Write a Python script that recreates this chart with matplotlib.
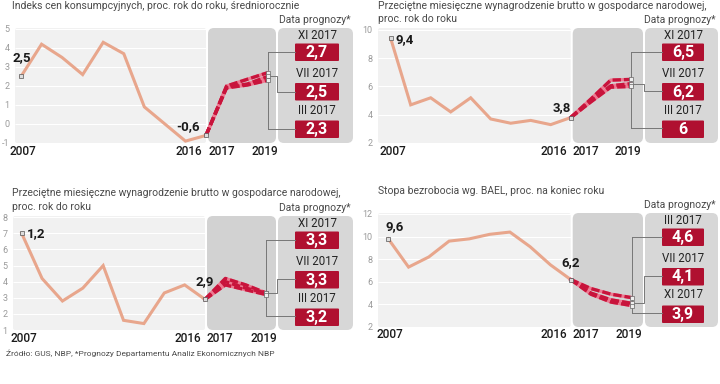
import matplotlib
matplotlib.use('Agg')
import matplotlib.pyplot as plt
from matplotlib.patches import FancyBboxPatch

W, H = 720, 384
FONT = ['Roboto', 'DejaVu Sans']
plt.rcParams['font.family'] = FONT

# data
years = list(range(2007, 2017))
fc_years = [2016, 2017, 2018, 2019]

cpi = [2.5, 4.2, 3.5, 2.6, 4.3, 3.7, 0.9, 0.0, -0.9, -0.6]
cpi_xi = [-0.6, 2.0, 2.35, 2.7]
cpi_vii = [-0.6, 1.95, 2.1, 2.5]
cpi_iii = [-0.6, 1.9, 2.05, 2.3]

wages = [9.4, 4.7, 5.2, 4.2, 5.2, 3.7, 3.4, 3.6, 3.3, 3.8]
wages_xi = [3.8, 5.1, 6.45, 6.5]
wages_vii = [3.8, 4.95, 6.05, 6.2]
wages_iii = [3.8, 4.9, 5.95, 6.0]

gdp = [7.0, 4.2, 2.8, 3.6, 5.0, 1.6, 1.4, 3.3, 3.8, 2.9]
gdp_xi = [2.9, 4.2, 3.8, 3.3]
gdp_vii = [2.9, 4.0, 3.6, 3.3]
gdp_iii = [2.9, 3.8, 3.5, 3.2]

unemp = [9.8, 7.3, 8.2, 9.6, 9.8, 10.2, 10.4, 9.1, 7.5, 6.2]
unemp_iii = [6.2, 5.4, 4.9, 4.6]
unemp_vii = [6.2, 5.0, 4.4, 4.1]
unemp_xi = [6.2, 4.9, 4.2, 3.9]

labels_a = ['XI 2017', 'VII 2017', 'III 2017']
labels_b = ['III 2017', 'VII 2017', 'XI 2017']
cpi_box = ['2,7', '2,5', '2,3']
wages_box = ['6,5', '6,2', '6']
gdp_box = ['3,3', '3,3', '3,2']
unemp_box = ['4,6', '4,1', '3,9']

PEACH = '#e8a68c'
RED = '#c8143c'
BOXRED = '#b01030'

fig = plt.figure(figsize=(7.2, 3.84), dpi=100)


def fx(x):
    return x / W


def fy(y):
    return 1 - y / H


def rbox(x0, y0, x1, y1, color, r=5, z=-2):
    p = FancyBboxPatch((fx(x0), fy(y1)), (x1 - x0) / W, (y1 - y0) / H,
                       boxstyle='round,pad=0,rounding_size=%f' % (r / W),
                       mutation_aspect=W / H, transform=fig.transFigure,
                       fc=color, ec='none', zorder=z)
    fig.add_artist(p)


def panel(g, hist, fcs, box_labels, box_values, first_lab, last_lab, title):
    ppy = (g['x16'] - g['x07']) / 9.0
    (v1, p1), (v2, p2) = g['ytop'], g['ybot']
    ppu = (p2 - p1) / (v1 - v2)

    def xd(px):
        return 2007 + (px - g['x07']) / ppy

    def yd(py):
        return v1 - (py - p1) / ppu

    def xp(year):
        return g['x07'] + (year - 2007) * ppy

    left, right, top, bottom = g['left'], g['right'], g['top'], g['bottom']
    fcl, fcr, rbl = g['x16'] + 2, g['fcr'], g['rbl']

    # backgrounds
    rbox(left, top, g['x16'], bottom, '#f1f1f1', r=2)
    rbox(fcl, top, fcr, bottom, '#d2d2d2', r=6)
    rbox(rbl, top, right, bottom, '#d7d7d7', r=6)

    ax = fig.add_axes([fx(left), fy(bottom), (right - left) / W, (bottom - top) / H])
    ax.set_facecolor('none')
    ax.set_xlim(xd(left), xd(right))
    ax.set_ylim(yd(bottom), yd(top))
    for s in ax.spines.values():
        s.set_visible(False)
    ax.set_xticks([])
    ax.set_yticks(g['ticks'])
    ax.set_yticklabels([str(t) for t in g['ticks']])
    ax.tick_params(axis='y', length=0, pad=4, labelsize=6.5, labelcolor='#9a9a9a')
    ax.hlines(g['ticks'], xd(left), 2016, color='white', lw=0.8, zorder=1)

    ax.plot(years, hist, color=PEACH, lw=2.2, solid_joinstyle='miter', zorder=3)
    for vals in fcs:
        ax.plot(fc_years, vals, color='#ee7a92', lw=2.4, zorder=4)
        ax.plot(fc_years, vals, color=RED, lw=2.4, dashes=(2.5, 0.9), zorder=5)
        ax.plot(2019, vals[-1], marker='s', ms=2.4, mfc='#eeeeee', mec='#666666',
                mew=0.5, zorder=6, clip_on=False)
    for xv, yv in [(years[0], hist[0]), (years[-1], hist[-1])]:
        ax.plot(xv, yv, marker='s', ms=2.4, mfc='#dddddd', mec='#555555', mew=0.5,
                zorder=6)

    # annotations
    ax.annotate(first_lab, (years[0], hist[0]), xytext=g['off1'], textcoords='offset pixels',
                ha='center', va='center', fontsize=9.5, fontweight='bold', color='#1a1a1a')
    ax.annotate(last_lab, (years[-1], hist[-1]), xytext=g['off2'], textcoords='offset pixels',
                ha='center', va='center', fontsize=9.5, fontweight='bold', color='#1a1a1a')

    # year labels
    ylab = bottom + 8
    for yr, shift in [(2007, 0.1), (2016, -0.85), (2017, -0.25), (2019, -0.12)]:
        fig.text(fx(xp(yr + shift)), fy(ylab), str(yr), ha='center', va='center',
                 fontsize=8.5, fontweight='medium', color='#1a1a1a')

    # right box with forecasts
    rb_x0, rb_x1 = rbl + 17, right - 14
    lab_off = [7.5, 45.5, 82]
    box_off = [15.5, 55, 92.5]
    centers = []
    for lab, val, lo, bo in zip(box_labels, box_values, lab_off, box_off):
        fig.text(fx((rb_x0 + rb_x1) / 2), fy(top + lo), lab, ha='center', va='center',
                 fontsize=8.3, color='#222222')
        y0 = top + bo
        rbox(rb_x0, y0, rb_x1, y0 + 17.5, BOXRED, r=1, z=-1)
        fig.text(fx((rb_x0 + rb_x1) / 2), fy(y0 + 9), val, ha='center', va='center',
                 fontsize=11.5, fontweight='bold', color='white')
        centers.append(y0 + 8.75)

    # connectors
    kw = dict(color='#777777', lw=0.7, clip_on=False, zorder=2)
    xgap = xd((fcr + rbl) / 2)
    ax.plot([2019, 2019], [yd(centers[0]), yd(centers[2])], **kw)
    ax.plot([2019, xd(rb_x0)], [yd(centers[0])] * 2, **kw)
    ax.plot([2019, xd(rb_x0)], [yd(centers[2])] * 2, **kw)
    mid = fcs[1][-1]
    ax.plot([2019, xgap, xgap, xd(rb_x0)], [mid, mid, yd(centers[1]), yd(centers[1])], **kw)

    # titles
    for i, line in enumerate(title):
        fig.text(fx(g['title_x']), fy(g['title_y'] + i * 13.5), line, ha='left', va='center',
                 fontsize=7.5, color='#4a4a4a')
    fig.text(fx(right - 2), fy(top - 8), 'Data prognozy*', ha='right', va='center',
             fontsize=7.5, color='#4a4a4a')


g1 = dict(left=15, right=353, top=28, bottom=143, x07=21, x16=206, fcr=276, rbl=278,
          ytop=(5, 29), ybot=(-1, 143), ticks=[-1, 0, 1, 2, 3, 4, 5],
          off1=(1, 19), off2=(-18, 9), title_x=12, title_y=6)
g2 = dict(left=378, right=718, top=28, bottom=143, x07=390.7, x16=570.7, fcr=643, rbl=645,
          ytop=(10, 30), ybot=(2, 144), ticks=[2, 4, 6, 8, 10],
          off1=(14, -1), off2=(-9, 10), title_x=378, title_y=6)
g3 = dict(left=13, right=353, top=216, bottom=330, x07=21.7, x16=205, fcr=276, rbl=278,
          ytop=(8, 217.3), ybot=(1, 331.7), ticks=[1, 2, 3, 4, 5, 6, 7, 8],
          off1=(14, 0), off2=(0, 18), title_x=12, title_y=193)
g4 = dict(left=378, right=718, top=213, bottom=327, x07=388.3, x16=570.7, fcr=643, rbl=645,
          ytop=(12, 214), ybot=(2, 329), ticks=[2, 4, 6, 8, 10, 12],
          off1=(6, 12), off2=(0, 17), title_x=378, title_y=191)

wage_title = ['Przeciętne miesięczne wynagrodzenie brutto w gospodarce narodowej,',
              'proc. rok do roku']
panel(g1, cpi, [cpi_xi, cpi_vii, cpi_iii], labels_a, cpi_box, '2,5', '-0,6',
      ['Indeks cen konsumpcyjnych, proc. rok do roku, średniorocznie'])
panel(g2, wages, [wages_xi, wages_vii, wages_iii], labels_a, wages_box, '9,4', '3,8',
      wage_title)
panel(g3, gdp, [gdp_xi, gdp_vii, gdp_iii], labels_a, gdp_box, '1,2', '2,9', wage_title)
panel(g4, unemp, [unemp_iii, unemp_vii, unemp_xi], labels_b, unemp_box, '9,6', '6,2',
      ['Stopa bezrobocia wg. BAEL, proc. na koniec roku'])

fig.text(fx(6), fy(353), 'Źródło: GUS, NBP, *Prognozy Departamentu Analiz Ekonomicznych NBP',
         ha='left', va='center', fontsize=6.0, color='#4a4a4a')

fig.savefig('out.png', dpi=100)
